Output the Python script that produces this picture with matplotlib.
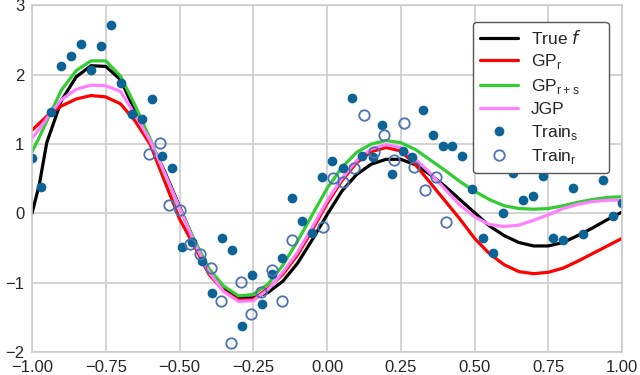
import numpy as np
import matplotlib.pyplot as plt
import seaborn as sns

sns.set_style('whitegrid')
plt.rcParams['font.family'] = ['Liberation Sans', 'DejaVu Sans']

# x grid for the curves
xs = [-1.0, -0.975, -0.95, -0.9, -0.85, -0.8, -0.75, -0.7, -0.65, -0.6, -0.55,
      -0.5, -0.45, -0.4, -0.35, -0.3, -0.25, -0.2, -0.15, -0.1, -0.05, 0.0,
      0.05, 0.1, 0.15, 0.2, 0.25, 0.3, 0.35, 0.4, 0.45, 0.5, 0.55, 0.6, 0.65,
      0.7, 0.75, 0.8, 0.85, 0.9, 0.95, 1.0]

true_f = [0.0, 0.42, 1.02, 1.63, 1.97, 2.13, 2.12, 1.93, 1.47, 1.04, 0.60,
          0.10, -0.40, -0.84, -1.08, -1.22, -1.22, -1.14, -0.98, -0.72, -0.38, -0.02,
          0.32, 0.56, 0.71, 0.78, 0.78, 0.70, 0.56, 0.39, 0.20, 0.01, -0.18, -0.32, -0.42,
          -0.47, -0.47, -0.42, -0.32, -0.21, -0.09, 0.02]

gp_r = [1.20, 1.30, 1.40, 1.55, 1.65, 1.70, 1.68, 1.58, 1.33, 1.00, 0.46,
        -0.08, -0.47, -0.88, -1.12, -1.25, -1.24, -1.08, -0.88, -0.60, -0.24, 0.14,
        0.47, 0.73, 0.89, 0.95, 0.90, 0.70, 0.44, 0.18, -0.08, -0.36, -0.58, -0.74, -0.84,
        -0.87, -0.85, -0.79, -0.69, -0.58, -0.47, -0.36]

gp_rs = [0.89, 1.10, 1.33, 1.78, 2.06, 2.20, 2.20, 1.98, 1.55, 1.08, 0.56,
         0.08, -0.38, -0.80, -1.05, -1.19, -1.17, -1.02, -0.75, -0.40, -0.02, 0.36,
         0.66, 0.88, 1.00, 1.05, 1.02, 0.92, 0.77, 0.62, 0.46, 0.32, 0.20, 0.11, 0.07,
         0.06, 0.07, 0.11, 0.16, 0.20, 0.23, 0.24]

jgp = [1.08, 1.22, 1.37, 1.64, 1.79, 1.85, 1.84, 1.76, 1.42, 1.05, 0.58,
       0.08, -0.42, -0.85, -1.13, -1.27, -1.26, -1.10, -0.85, -0.56, -0.20, 0.18,
       0.50, 0.76, 0.93, 0.99, 0.95, 0.78, 0.58, 0.35, 0.12, -0.05, -0.16, -0.19, -0.17,
       -0.10, -0.02, 0.07, 0.13, 0.17, 0.19, 0.19]

# source task training data (filled)
train_s_x = [-1.0, -0.97, -0.936, -0.903, -0.868, -0.834, -0.8, -0.766, -0.732, -0.698,
             -0.662, -0.628, -0.594, -0.56, -0.527, -0.493, -0.459, -0.425, -0.391, -0.357,
             -0.323, -0.289, -0.255, -0.221, -0.186, -0.154, -0.12, -0.085, -0.05, -0.018,
             0.017, 0.053, 0.085, 0.119, 0.155, 0.187, 0.221, 0.256, 0.289, 0.324,
             0.358, 0.392, 0.425, 0.459, 0.493, 0.527, 0.561, 0.595, 0.629, 0.663,
             0.697, 0.731, 0.765, 0.799, 0.833, 0.867, 0.935, 0.969, 1.0]
train_s_y = [0.80, 0.38, 1.46, 2.13, 2.27, 2.45, 2.07, 2.41, 2.72, 1.88,
             1.44, 1.36, 1.645, 0.83, 0.66, -0.48, -0.42, -0.68, -1.15, -0.35,
             -0.53, -1.63, -0.89, -1.31, -0.876, -0.64, 0.216, -0.11, -0.29, 0.52,
             0.755, 0.65, 1.66, 0.834, 0.82, 1.28, 0.567, 0.906, 0.808, 1.49,
             1.13, 0.97, 0.97, 0.83, 0.346, -0.356, -0.577, 0.009, 0.577, 0.20,
             0.25, 0.54, -0.356, -0.385, 0.365, -0.30, 0.488, -0.04, 0.144]

# target task training data (hollow)
train_r_x = [-0.602, -0.567, -0.534, -0.498, -0.466, -0.429, -0.393, -0.359, -0.325, -0.292,
             -0.257, -0.225, -0.1875, -0.152, -0.119, -0.014, 0.021, 0.055, 0.09, 0.125,
             0.159, 0.193, 0.228, 0.262, 0.295, 0.331, 0.369, 0.402]
train_r_y = [0.863, 1.02, 0.12, 0.055, -0.436, -0.58, -0.79, -1.26, -1.876, -0.987,
             -1.457, -1.136, -0.814, -1.27, -0.378, -0.193, 0.505, 0.456, 0.649, 1.426,
             0.885, 1.127, 0.769, 1.306, 0.675, 0.33, 0.524, -0.12]

fig = plt.figure(figsize=(6.4, 3.75), dpi=100)
ax = fig.add_axes([0.05, 0.0613, 0.922, 0.9243])

lw = 2.3
ax.plot(xs, true_f, color='black', lw=lw, label='True $f$')
ax.plot(xs, gp_r, color='#ff0000', lw=lw, label=r'GP$_\mathregular{r}$')
ax.plot(xs, gp_rs, color='#33cc33', lw=lw, label=r'GP$_\mathregular{r+s}$')
ax.plot(xs, jgp, color='#ff80ff', lw=lw, label='JGP')
ax.plot(train_s_x, train_s_y, 'o', color='#0b6396', ms=7, mew=0,
        label=r'Train$_\mathregular{s}$')
ax.plot(train_r_x, train_r_y, 'o', mfc='none', mec='#4c72b0', ms=7.5, mew=1.3,
        label=r'Train$_\mathregular{r}$')

ax.set_xlim(-1, 1)
ax.set_ylim(-2, 3)
ax.set_xticks(np.arange(-1, 1.01, 0.25))
ax.set_xticklabels(['\u22121.00', '\u22120.75', '\u22120.50', '\u22120.25', '0.00',
                    '0.25', '0.50', '0.75', '1.00'])
ax.set_yticks([-2, -1, 0, 1, 2, 3])
ax.tick_params(labelsize=12, pad=2)
for s in ax.spines.values():
    s.set_color('#cccccc')
    s.set_linewidth(1.2)
ax.grid(color='#cccccc', lw=1.2)

# legend box placed where it sits in the reference (axes coords)
leg = ax.legend(loc='upper left', bbox_to_anchor=(0.748, 0.518, 0.2295, 0.435),
                mode='expand', borderaxespad=0, fontsize=12.5,
                frameon=True, handlelength=2.15, borderpad=0.4, labelspacing=0.33,
                handletextpad=0.75)
leg.get_frame().set_edgecolor('#555555')
leg.get_frame().set_alpha(1)

fig.savefig('out.png', dpi=100)
